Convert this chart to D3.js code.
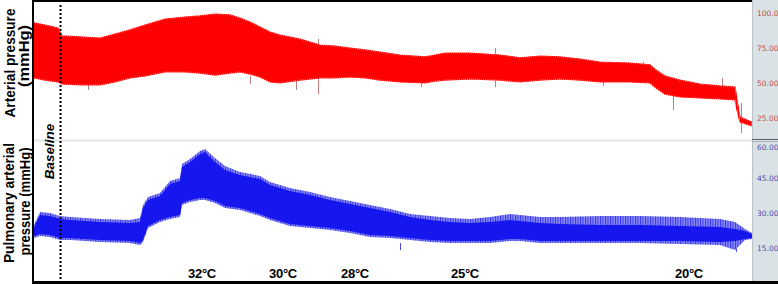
<!DOCTYPE html>
<html>
<head>
<meta charset="utf-8">
<script src="https://cdn.jsdelivr.net/npm/d3@7"></script>
<style>
  html, body { margin: 0; padding: 0; background: #fff; overflow: hidden; }
  svg { display: block; }
</style>
</head>
<body>
<div id="chart"></div>
<script>
// time in minutes from start of recording (trace has no time ticks)
const apTime = [0, 5.5, 12, 14, 23, 33, 40.5, 48, 55.5, 65.5, 75.5, 83, 90.5, 98, 103, 108, 113, 118, 123, 133,
  143, 150.5, 158, 165.5, 173, 183, 195.5, 200.5, 205.5, 218, 233, 243, 253, 263, 273, 283, 298, 308, 311, 315.5,
  323, 333, 343, 350.5, 351.5, 353, 359];
// arterial pressure envelope, mmHg
const apHigh = [92.9, 91.4, 89.3, 83.6, 82.9, 82.1, 85.0, 87.9, 91.4, 95.7, 97.1, 97.9, 99.3, 98.6, 96.4, 93.6, 90.0, 86.4, 84.3, 81.4,
  77.1, 76.4, 75.0, 73.6, 72.1, 70.0, 68.6, 70.0, 71.4, 71.4, 70.0, 67.9, 69.3, 68.6, 67.1, 65.0, 64.3, 62.9, 59.3, 55.0,
  52.1, 49.3, 47.9, 47.1, 37.9, 25.7, 22.1];
const apLow = [53.6, 52.1, 50.7, 49.3, 48.6, 48.6, 50.7, 53.6, 55.0, 57.9, 57.9, 57.1, 55.7, 57.1, 57.9, 56.4, 54.3, 50.7, 50.0, 52.1,
  53.6, 53.6, 54.3, 53.6, 52.1, 50.7, 50.0, 51.4, 52.1, 52.9, 52.1, 50.7, 52.1, 52.9, 52.1, 50.7, 50.7, 50.0, 46.4, 42.1,
  40.0, 39.3, 38.6, 37.9, 30.7, 22.1, 19.3];
const apSpikeTime = [27, 108, 131, 142, 193.5, 230.5, 284.5, 304.5, 319.5, 344, 353.5];
const apSpikeFrom = [48.6, 55.0, 52.1, 81.4, 50.7, 75.0, 52.1, 65.0, 41.4, 53.6, 35.7];
const apSpikeTo = [45.0, 49.3, 45.0, 42.1, 47.1, 47.1, 47.9, 59.3, 30.7, 46.4, 14.3];

const papTime = [0, 3, 8, 13, 18, 33, 48, 53, 54.5, 57, 63, 68, 73, 74, 78, 83, 85.5, 90.5, 95.5, 103, 113, 118,
  128, 138, 148, 158, 168, 178, 188, 198, 208, 218, 228, 238, 243, 253, 263, 283, 303, 323, 343, 350.5, 355.5, 359];
// pulmonary arterial pressure, peaks and solid core, mmHg
const papHigh = [24.9, 30.4, 30.0, 28.7, 28.3, 27.4, 27.0, 27.9, 33.4, 36.9, 38.6, 43.7, 45.0, 51.0, 53.1, 56.6, 57.4, 53.6, 50.1, 47.6, 45.9, 43.3,
  40.7, 39.0, 36.9, 35.1, 33.4, 31.7, 29.6, 28.7, 27.9, 27.4, 28.3, 29.6, 29.1, 28.3, 28.3, 28.7, 28.7, 28.3, 27.4, 26.1, 23.1, 21.4];
const papLow = [19.3, 20.1, 19.7, 18.4, 18.4, 17.6, 17.1, 16.3, 17.6, 23.6, 26.1, 27.4, 28.3, 33.4, 34.7, 35.6, 35.6, 34.3, 32.1, 31.3, 28.7, 27.0,
  24.4, 23.6, 22.7, 21.4, 19.7, 19.3, 18.4, 17.6, 17.1, 17.1, 17.1, 18.0, 18.0, 17.1, 17.1, 17.1, 17.1, 16.7, 16.3, 14.1, 18.4, 18.9];
const papCoreHigh = [24.0, 29.1, 28.7, 27.4, 27.0, 26.1, 25.7, 26.1, 32.1, 35.6, 37.3, 42.4, 43.7, 49.7, 51.9, 55.3, 56.1, 51.9, 48.4, 46.3, 44.6, 42.0,
  39.4, 37.7, 35.6, 33.9, 32.1, 30.4, 28.3, 27.0, 26.1, 25.7, 26.1, 27.0, 26.6, 25.7, 25.3, 24.9, 24.9, 24.4, 24.0, 23.1, 22.3, 21.0];
const papCoreLow = [20.1, 21.0, 20.6, 19.3, 19.3, 18.4, 18.0, 17.1, 18.4, 24.4, 27.0, 28.3, 29.1, 34.3, 35.6, 36.4, 36.4, 35.1, 33.0, 32.1, 29.6, 27.9,
  25.3, 24.4, 23.6, 22.3, 20.6, 20.1, 19.3, 18.4, 18.0, 18.0, 18.0, 18.9, 18.9, 18.0, 18.0, 18.0, 18.0, 18.0, 17.6, 18.0, 18.9, 19.3];
const papSpikeTime = [183, 351];
const papSpikeFrom = [17.1, 16.3];
const papSpikeTo = [14.1, 13.3];

const tempLabels = ['32°C', '30°C', '28°C', '25°C', '20°C'];
const tempTimes = [84, 124.5, 160.5, 215.5, 327.5];
const baselineTime = 13.25;

const apTicks = [25, 50, 75, 100];
const papTicks = [15, 30, 45, 60];

const W = 778, H = 284;
const PLOT_L = 34, PLOT_R = 752;
const TOP_Y0 = 2, TOP_Y1 = 139, BOT_Y0 = 141, BOT_Y1 = 281;
const FONT = "'Liberation Sans', Arial, sans-serif";

const x = d3.scaleLinear().domain([0, 359]).range([PLOT_L, PLOT_R]);
const yAP = d3.scaleLinear().domain([25, 100]).range([118, 13]);
const yPAP = d3.scaleLinear().domain([15, 60]).range([248, 143]);

const svg = d3.select('#chart')
  .append('svg')
  .attr('width', W)
  .attr('height', H);

const defs = svg.append('defs');
defs.append('clipPath').attr('id', 'clipTop')
  .append('rect').attr('x', PLOT_L).attr('y', TOP_Y0).attr('width', PLOT_R - PLOT_L).attr('height', TOP_Y1 - TOP_Y0);
defs.append('clipPath').attr('id', 'clipBot')
  .append('rect').attr('x', PLOT_L).attr('y', BOT_Y0).attr('width', PLOT_R - PLOT_L).attr('height', BOT_Y1 - BOT_Y0);

// striped fill for the beat-to-beat fringe of the traces
function stripes(id, bg, fg, w) {
  const p = defs.append('pattern')
    .attr('id', id)
    .attr('patternUnits', 'userSpaceOnUse')
    .attr('width', w).attr('height', 8);
  p.append('rect').attr('width', w).attr('height', 8).attr('fill', bg);
  p.append('rect').attr('width', 1).attr('height', 8).attr('fill', fg);
}
stripes('papFringe', '#8e8ef6', '#3030ee', 2.5);
stripes('apFringe', '#ff5a5a', '#ff0000', 2);

// right hand axis strip
svg.append('rect')
  .attr('x', PLOT_R).attr('y', 0)
  .attr('width', W - PLOT_R).attr('height', H)
  .attr('fill', '#dbe2e5');
svg.append('line')
  .attr('x1', PLOT_R + 0.5).attr('x2', PLOT_R + 0.5)
  .attr('y1', 0).attr('y2', H)
  .attr('stroke', '#b9c2c6');
svg.append('line')
  .attr('x1', PLOT_R).attr('x2', W)
  .attr('y1', 139.5).attr('y2', 139.5)
  .attr('stroke', '#5a6268');
svg.append('line')
  .attr('x1', PLOT_R).attr('x2', W)
  .attr('y1', 141.5).attr('y2', 141.5)
  .attr('stroke', '#aab3b8');

// divider between the two traces
svg.append('line')
  .attr('x1', PLOT_L).attr('x2', PLOT_R)
  .attr('y1', 140.5).attr('y2', 140.5)
  .attr('stroke', '#e4e4e4')
  .attr('stroke-width', 2);

function band(g, time, hi, lo, yScale, fill, edge) {
  const area = d3.area()
    .x(d => x(d))
    .y0((d, i) => yScale(lo[i]))
    .y1((d, i) => yScale(hi[i]));
  g.append('path')
    .datum(time)
    .attr('d', area)
    .attr('fill', fill)
    .attr('stroke', edge || 'none')
    .attr('stroke-width', 1.2);
}

function spikes(g, time, from, to, yScale, color) {
  g.append('g')
    .selectAll('line')
    .data(time)
    .join('line')
    .attr('x1', d => x(d) + 0.5)
    .attr('x2', d => x(d) + 0.5)
    .attr('y1', (d, i) => yScale(from[i]))
    .attr('y2', (d, i) => yScale(to[i]))
    .attr('stroke', color)
    .attr('stroke-width', 1);
}

const gTop = svg.append('g').attr('clip-path', 'url(#clipTop)');
spikes(gTop, apSpikeTime, apSpikeFrom, apSpikeTo, yAP, '#c47c7c');
band(gTop, apTime, apHigh, apLow, yAP, '#ff0000', 'url(#apFringe)');

const gBot = svg.append('g').attr('clip-path', 'url(#clipBot)');
spikes(gBot, papSpikeTime, papSpikeFrom, papSpikeTo, yPAP, '#4a4ad8');
band(gBot, papTime, papHigh, papLow, yPAP, 'url(#papFringe)');
band(gBot, papTime, papCoreHigh, papCoreLow, yPAP, '#1616ee');

// axes on the grey strip
const axAP = svg.append('g')
  .attr('transform', `translate(${PLOT_R + 3},0)`)
  .call(d3.axisRight(yAP).tickValues(apTicks).tickFormat(d3.format('.2f')).tickSize(0).tickPadding(2));
const axPAP = svg.append('g')
  .attr('transform', `translate(${PLOT_R + 3},0)`)
  .call(d3.axisRight(yPAP).tickValues(papTicks).tickFormat(d3.format('.2f')).tickSize(0).tickPadding(2));

[[axAP, '#c04a4a'], [axPAP, '#4a4ab4']].forEach(([ax, col]) => {
  ax.select('.domain').remove();
  ax.selectAll('text')
    .attr('fill', col)
    .attr('font-family', "'DejaVu Sans', Verdana, sans-serif")
    .attr('font-size', 7.5);
});
// keep the top label of the lower strip inside its panel
axPAP.selectAll('.tick text')
  .attr('y', d => Math.max(0, BOT_Y0 + 6 - yPAP(d)));

// frame
svg.append('line')
  .attr('x1', 33).attr('x2', 33)
  .attr('y1', 0).attr('y2', H)
  .attr('stroke', '#000').attr('stroke-width', 2);
svg.append('line')
  .attr('x1', 32).attr('x2', PLOT_R)
  .attr('y1', 1).attr('y2', 1)
  .attr('stroke', '#000').attr('stroke-width', 2);
svg.append('line')
  .attr('x1', 32).attr('x2', W)
  .attr('y1', 282.5).attr('y2', 282.5)
  .attr('stroke', '#000').attr('stroke-width', 3);

// baseline marker
svg.append('line')
  .attr('x1', x(baselineTime)).attr('x2', x(baselineTime))
  .attr('y1', 5).attr('y2', 281)
  .attr('stroke', '#000')
  .attr('stroke-width', 2)
  .attr('stroke-dasharray', '2,2');

svg.append('text')
  .attr('transform', `translate(54,151.5) rotate(-90)`)
  .attr('text-anchor', 'middle')
  .attr('font-family', FONT)
  .attr('font-weight', 'bold')
  .attr('font-style', 'italic')
  .attr('font-size', 13.5)
  .text('Baseline');

// y titles
const titles = [
  { text: 'Arterial pressure', cx: 14.5, cy: 63, len: 109 },
  { text: '(mmHg)', cx: 29, cy: 56, len: 62 },
  { text: 'Pulmonary arterial', cx: 14, cy: 203, len: 120 },
  { text: 'pressure (mmHg)', cx: 29.5, cy: 201.5, len: 108 }
];
svg.append('g')
  .selectAll('text')
  .data(titles)
  .join('text')
  .attr('transform', d => `translate(${d.cx},${d.cy}) rotate(-90)`)
  .attr('text-anchor', 'middle')
  .attr('font-family', FONT)
  .attr('font-weight', 'bold')
  .attr('font-size', 14)
  .attr('textLength', d => d.len)
  .attr('lengthAdjust', 'spacingAndGlyphs')
  .text(d => d.text);

// temperature marks
svg.append('g')
  .selectAll('text')
  .data(tempLabels)
  .join('text')
  .attr('x', (d, i) => x(tempTimes[i]))
  .attr('y', 278)
  .attr('text-anchor', 'middle')
  .attr('font-family', FONT)
  .attr('font-weight', 'bold')
  .attr('font-size', 13)
  .attr('letter-spacing', -0.3)
  .text(d => d);
</script>
</body>
</html>
